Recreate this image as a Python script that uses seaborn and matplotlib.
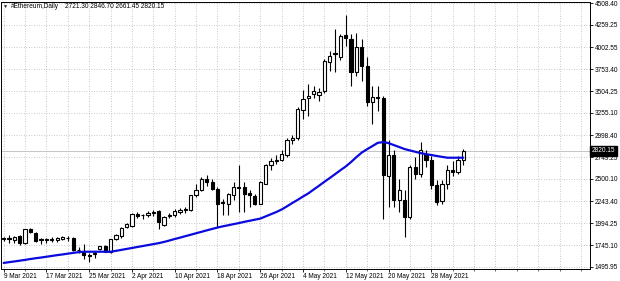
import numpy as np
import pandas as pd
import matplotlib
matplotlib.use("Agg")
import matplotlib.pyplot as plt
import matplotlib.transforms as mtransforms
import seaborn as sns

# ---------------- data ----------------
dates = pd.date_range("2021-03-09", "2021-06-03", freq="D")

opens = [1812, 1830, 1805, 1850, 1770, 1925, 1880, 1805, 1800, 1820,
         1800, 1815, 1830, 1822, 1690, 1670, 1635, 1640, 1700, 1735,
         1670, 1820, 1850, 1955, 1965, 2098, 2085, 2090, 2110, 2132,
         1973, 2080, 2087, 2120, 2152, 2151, 2314, 2379, 2504, 2466,
         2390, 2240, 2220, 2315, 2410, 2409, 2340, 2303, 2220, 2447,
         2655, 2710, 2712, 2770, 2950, 2965, 3290, 3430, 3470, 3460,
         3500, 3835, 3940, 3887, 4141, 4095, 3716, 4001, 3792, 3375,
         3432, 3420, 2540, 2769, 2258, 2258, 2068, 2636, 2553, 2788,
         2720, 2428, 2250, 2440, 2606, 2580, 2721.30]
highs = [1840, 1860, 1845, 1865, 1935, 1940, 1895, 1830, 1830, 1835,
         1835, 1850, 1845, 1835, 1720, 1760, 1660, 1680, 1740, 1745,
         1820, 1870, 1955, 1995, 2110, 2125, 2100, 2140, 2150, 2145,
         2075, 2110, 2160, 2165, 2180, 2320, 2440, 2520, 2549, 2500,
         2410, 2270, 2340, 2466, 2655, 2466, 2371, 2330, 2480, 2670,
         2740, 2769, 2830, 2970, 3000, 3320, 3520, 3584, 3560, 3540,
         3870, 3963, 4209, 4150, 4372, 4160, 4171, 4100, 3890, 3565,
         3565, 3450, 2940, 2830, 2504, 2371, 2660, 2750, 2921, 2826,
         2760, 2485, 2485, 2655, 2700, 2760, 2846.70]
lows = [1795, 1765, 1770, 1745, 1760, 1880, 1780, 1760, 1770, 1780,
        1780, 1800, 1790, 1680, 1660, 1590, 1556, 1600, 1690, 1665,
        1660, 1805, 1830, 1940, 1955, 2060, 2040, 2070, 2080, 1935,
        1960, 2050, 2070, 2100, 2110, 2140, 2290, 2360, 2420, 2370,
        1947, 2090, 2090, 2258, 2125, 2125, 2182, 2200, 2210, 2440,
        2600, 2674, 2700, 2750, 2900, 2950, 3186, 3224, 3420, 3390,
        3480, 3735, 3716, 3860, 4020, 3565, 3680, 3622, 3330, 3129,
        3280, 2049, 2180, 2180, 2125, 1841, 2040, 2504, 2523, 2636,
        2390, 2200, 2220, 2390, 2530, 2560, 2661.45]
closes = [1830, 1820, 1838, 1768, 1925, 1890, 1790, 1815, 1815, 1800,
          1825, 1835, 1822, 1690, 1685, 1632, 1625, 1650, 1735, 1670,
          1810, 1860, 1945, 1985, 2098, 2075, 2090, 2115, 2125, 2011,
          2068, 2087, 2132, 2151, 2148, 2314, 2379, 2504, 2466, 2390,
          2220, 2225, 2333, 2410, 2400, 2333, 2314, 2220, 2466, 2655,
          2705, 2716, 2790, 2945, 2965, 3300, 3413, 3451, 3500, 3495,
          3849, 3906, 3930, 4133, 4114, 3716, 4001, 3792, 3375, 3432,
          3420, 2550, 2769, 2265, 2371, 2068, 2636, 2560, 2826, 2720,
          2428, 2239, 2447, 2606, 2580, 2712, 2820.15]
ma_values = [1542, 1551, 1559, 1568, 1577, 1587, 1596, 1604, 1613, 1622,
             1631, 1639, 1648, 1657, 1665, 1670, 1670, 1670, 1670, 1670,
             1670, 1680, 1691, 1702, 1713, 1724, 1735, 1746, 1757, 1768,
             1782, 1798, 1815, 1831, 1848, 1864, 1881, 1897, 1914, 1930,
             1946, 1960, 1972, 1985, 1997, 2011, 2023, 2036, 2048, 2073,
             2098, 2123, 2152, 2188, 2226, 2262, 2300, 2336, 2380, 2423,
             2468, 2511, 2555, 2600, 2643, 2694, 2750, 2802, 2840, 2876,
             2913, 2921, 2910, 2887, 2865, 2842, 2826, 2811, 2796, 2784,
             2774, 2763, 2753, 2743, 2743, 2743, 2743]

price_ticks = [4508.40, 4259.25, 4002.55, 3753.40, 3504.25, 3255.10, 2998.40,
               2749.25, 2500.10, 2243.40, 1994.25, 1745.10, 1495.95]
date_labels = ["9 Mar 2021", "17 Mar 2021", "25 Mar 2021", "2 Apr 2021",
               "10 Apr 2021", "18 Apr 2021", "26 Apr 2021", "4 May 2021",
               "12 May 2021", "20 May 2021", "28 May 2021"]
symbol_text = "#Ethereum,Daily"
ohlc_text = "2721.30 2846.70 2661.45 2820.15"
bid_price = 2820.15

# ---------------- styling ----------------
sns.set_theme(style="white")
plt.rcParams['font.family'] = ['Liberation Sans', 'DejaVu Sans']

W, H = 620, 281
fig = plt.figure(figsize=(W / 100, H / 100), dpi=100)
fig.patch.set_facecolor("white")
ax = fig.add_axes([1 / W, 1 - 269 / H, 589 / W, 267 / H])
ax.set_facecolor("white")

df = pd.DataFrame({"date": dates, "open": opens, "high": highs,
                   "low": lows, "close": closes, "ma": ma_values})
df["i"] = np.arange(len(df))
up = df["close"] >= df["open"]
body_low = np.minimum(df["open"], df["close"])
body_h = np.maximum(np.abs(df["close"] - df["open"]), 6)

# wicks
ax.vlines(df["i"], df["low"], df["high"], color="black", lw=0.8, zorder=3)
# bodies
ax.bar(df["i"][up], body_h[up], bottom=body_low[up], width=0.6,
       facecolor="white", edgecolor="black", linewidth=0.8, zorder=4)
ax.bar(df["i"][~up], body_h[~up], bottom=body_low[~up], width=0.6,
       facecolor="black", edgecolor="black", linewidth=0.8, zorder=4)

# moving average
sns.lineplot(data=df, x="i", y="ma", ax=ax, color="#0a0ade", lw=1.6,
             zorder=5, legend=False)

# bid line
ax.axhline(bid_price, color="#c4c4c4", lw=0.7, zorder=1)

# limits
ax.set_xlim(-0.5, 109.7)
ax.set_ylim(1473, 4520)

# axes / ticks
ax.yaxis.tick_right()
ax.set_yticks(price_ticks)
ax.set_yticklabels([f"{v:.2f}" for v in price_ticks])
ax.set_xticks(np.arange(0, 81, 8))
ax.set_xticklabels(date_labels)
ax.set_xticks(np.arange(0, 110, 4), minor=True)
for lab in ax.get_xticklabels():
    lab.set_ha("left")
ax.tick_params(axis="y", which="major", right=True, left=False, length=2.2,
               width=0.6, pad=1.2, labelsize=4.7, colors="black")
ax.tick_params(axis="x", which="major", bottom=True, length=2.2, width=0.6,
               pad=1.0, labelsize=4.7, colors="black")
ax.tick_params(axis="x", which="minor", bottom=True, length=1.2, width=0.5)
ax.set_xlabel("")
ax.set_ylabel("")

ax.grid(True, which="both", axis="x", color="#b8b8b8", lw=0.6,
        linestyle=(0, (1, 2)), zorder=0)
ax.grid(True, which="major", axis="y", color="#b8b8b8", lw=0.6,
        linestyle=(0, (1, 2)), zorder=0)
ax.set_axisbelow(True)

for s in ax.spines.values():
    s.set_color("black")
    s.set_linewidth(0.7)

# bid label box
trans = mtransforms.blended_transform_factory(ax.transAxes, ax.transData)
ax.text(1.003, bid_price, "2820.15", transform=trans, ha="left", va="center",
        fontsize=4.7, color="white", zorder=10, clip_on=False,
        bbox=dict(boxstyle="square,pad=0.25", facecolor="black",
                  edgecolor="black"))

# header text
fig.text(3 / W, 1 - 6.5 / H, "\u25bc", fontsize=3.8, color="#303030",
         ha="left", va="center")
fig.text(11 / W, 1 - 6.5 / H, symbol_text, fontsize=4.7, color="black",
         ha="left", va="center")
fig.text(65 / W, 1 - 6.5 / H, ohlc_text, fontsize=4.7, color="black",
         ha="left", va="center")

fig.savefig("out.png", dpi=100, facecolor="white")
